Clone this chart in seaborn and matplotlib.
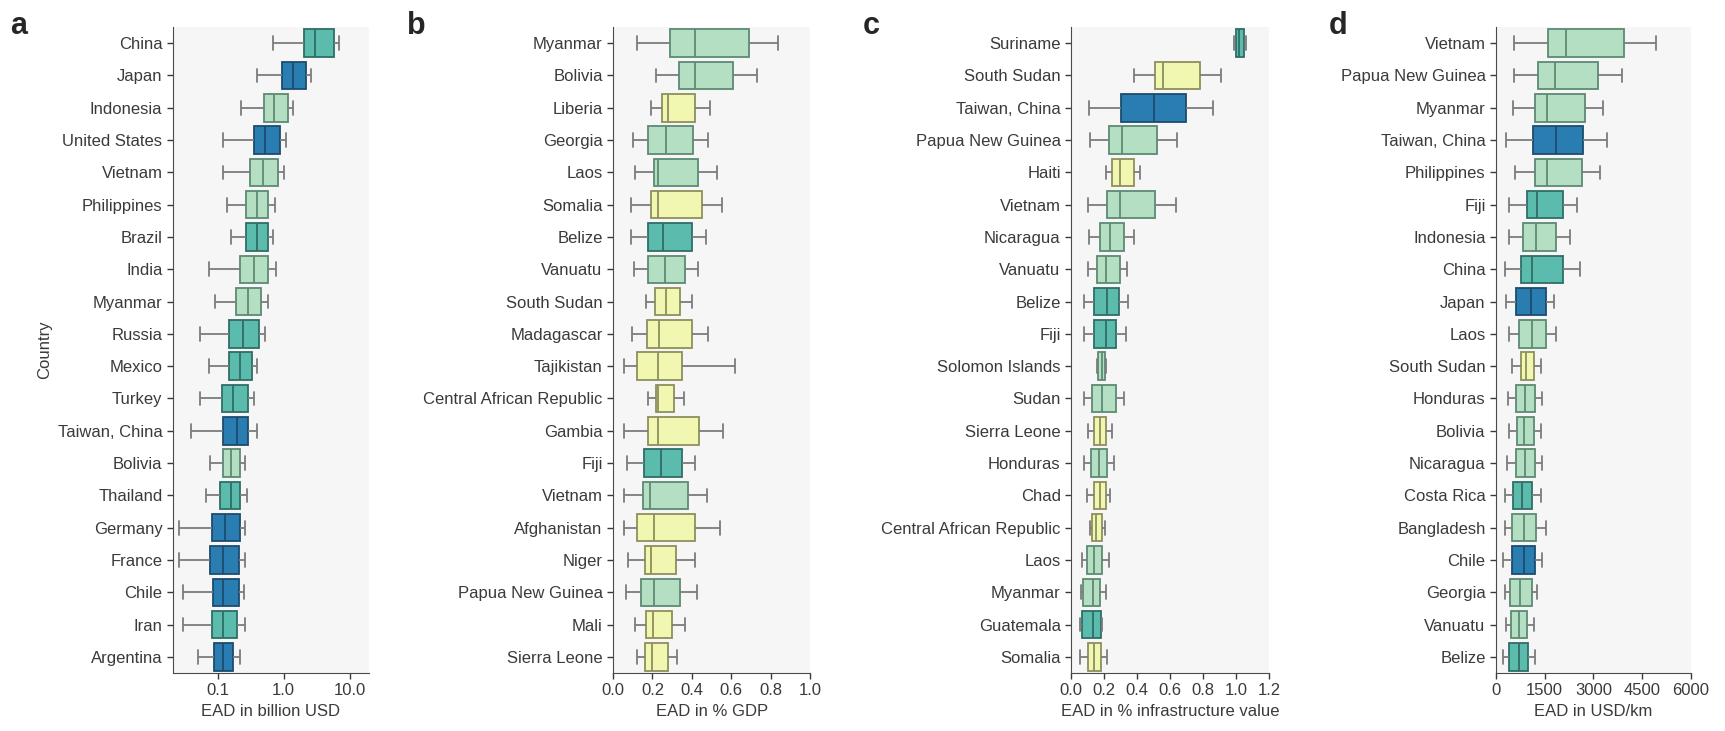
import numpy as np
import pandas as pd
import matplotlib
matplotlib.use("Agg")
import matplotlib.pyplot as plt
from matplotlib.ticker import FixedLocator, FixedFormatter, NullLocator
import seaborn as sns

# income group colours (fill, edge)
group_fill = {"L": "#f1f7b0", "LM": "#b4dfc3", "UM": "#5bbbad", "H": "#2a7db0"}
group_edge = {"L": "#8e8f5c", "LM": "#5d8a74", "UM": "#2f6e66", "H": "#1c4c6e"}

# panel a: EAD in billion USD
a_countries = ["China", "Japan", "Indonesia", "United States", "Vietnam", "Philippines",
               "Brazil", "India", "Myanmar", "Russia", "Mexico", "Turkey", "Taiwan, China",
               "Bolivia", "Thailand", "Germany", "France", "Chile", "Iran", "Argentina"]
a_group = ["UM", "H", "LM", "H", "LM", "LM", "UM", "LM", "LM", "UM", "UM", "UM", "H",
           "LM", "UM", "H", "H", "H", "UM", "H"]
a_lo = [0.68, 0.40, 0.23, 0.12, 0.12, 0.14, 0.16, 0.075, 0.09, 0.055, 0.073, 0.055, 0.039,
        0.078, 0.066, 0.026, 0.026, 0.030, 0.030, 0.050]
a_q1 = [2.0, 0.93, 0.50, 0.35, 0.31, 0.27, 0.27, 0.215, 0.19, 0.15, 0.147, 0.115, 0.12,
        0.12, 0.107, 0.081, 0.076, 0.084, 0.081, 0.087]
a_med = [3.0, 1.4, 0.71, 0.53, 0.48, 0.40, 0.40, 0.35, 0.285, 0.24, 0.22, 0.17, 0.20,
         0.16, 0.16, 0.13, 0.12, 0.12, 0.12, 0.12]
a_q3 = [5.7, 2.15, 1.15, 0.87, 0.81, 0.59, 0.59, 0.59, 0.45, 0.42, 0.33, 0.285, 0.29,
        0.215, 0.22, 0.22, 0.21, 0.21, 0.20, 0.17]
a_hi = [6.8, 2.6, 1.4, 1.07, 1.0, 0.73, 0.68, 0.76, 0.57, 0.53, 0.40, 0.35, 0.39,
        0.26, 0.275, 0.26, 0.26, 0.25, 0.26, 0.215]

# panel b: EAD in % GDP
b_countries = ["Myanmar", "Bolivia", "Liberia", "Georgia", "Laos", "Somalia", "Belize",
               "Vanuatu", "South Sudan", "Madagascar", "Tajikistan", "Central African Republic",
               "Gambia", "Fiji", "Vietnam", "Afghanistan", "Niger", "Papua New Guinea",
               "Mali", "Sierra Leone"]
b_group = ["LM", "LM", "L", "LM", "LM", "L", "UM", "LM", "L", "L", "L", "L", "L", "UM",
           "LM", "L", "L", "LM", "L", "L"]
b_lo = [0.123, 0.22, 0.195, 0.10, 0.11, 0.09, 0.09, 0.107, 0.165, 0.097, 0.056, 0.175,
        0.056, 0.07, 0.056, 0.056, 0.077, 0.067, 0.113, 0.123]
b_q1 = [0.29, 0.335, 0.25, 0.175, 0.21, 0.195, 0.175, 0.175, 0.215, 0.17, 0.123, 0.22,
        0.175, 0.155, 0.15, 0.123, 0.16, 0.143, 0.165, 0.16]
b_med = [0.415, 0.415, 0.28, 0.27, 0.23, 0.23, 0.255, 0.265, 0.27, 0.235, 0.23, 0.23,
         0.23, 0.245, 0.185, 0.21, 0.195, 0.21, 0.205, 0.20]
b_q3 = [0.69, 0.61, 0.415, 0.405, 0.43, 0.45, 0.40, 0.365, 0.34, 0.40, 0.35, 0.31,
        0.435, 0.35, 0.38, 0.415, 0.32, 0.34, 0.30, 0.28]
b_hi = [0.835, 0.73, 0.49, 0.48, 0.53, 0.555, 0.47, 0.43, 0.40, 0.48, 0.62, 0.36,
        0.56, 0.415, 0.475, 0.545, 0.415, 0.425, 0.365, 0.325]

# panel c: EAD in % infrastructure value
c_countries = ["Suriname", "South Sudan", "Taiwan, China", "Papua New Guinea", "Haiti",
               "Vietnam", "Nicaragua", "Vanuatu", "Belize", "Fiji", "Solomon Islands",
               "Sudan", "Sierra Leone", "Honduras", "Chad", "Central African Republic",
               "Laos", "Myanmar", "Guatemala", "Somalia"]
c_group = ["UM", "L", "H", "LM", "L", "LM", "LM", "LM", "UM", "UM", "LM", "LM", "L",
           "LM", "L", "L", "LM", "LM", "UM", "L"]
c_lo = [0.99, 0.38, 0.11, 0.115, 0.21, 0.10, 0.11, 0.10, 0.08, 0.08, 0.16, 0.08, 0.10,
        0.08, 0.095, 0.115, 0.065, 0.06, 0.055, 0.055]
c_q1 = [1.00, 0.51, 0.305, 0.23, 0.25, 0.22, 0.175, 0.16, 0.14, 0.14, 0.165, 0.125,
        0.14, 0.12, 0.14, 0.125, 0.095, 0.07, 0.065, 0.10]
c_med = [1.02, 0.56, 0.50, 0.31, 0.295, 0.295, 0.235, 0.21, 0.215, 0.21, 0.185, 0.19,
         0.175, 0.17, 0.175, 0.15, 0.14, 0.13, 0.13, 0.14]
c_q3 = [1.05, 0.78, 0.695, 0.52, 0.38, 0.51, 0.32, 0.295, 0.29, 0.275, 0.205, 0.27,
        0.21, 0.215, 0.21, 0.19, 0.19, 0.175, 0.18, 0.18]
c_hi = [1.06, 0.91, 0.86, 0.64, 0.42, 0.635, 0.38, 0.34, 0.345, 0.335, 0.21, 0.32,
        0.25, 0.26, 0.235, 0.205, 0.23, 0.21, 0.19, 0.215]

# panel d: EAD in USD/km
d_countries = ["Vietnam", "Papua New Guinea", "Myanmar", "Taiwan, China", "Philippines",
               "Fiji", "Indonesia", "China", "Japan", "Laos", "South Sudan", "Honduras",
               "Bolivia", "Nicaragua", "Costa Rica", "Bangladesh", "Chile", "Georgia",
               "Vanuatu", "Belize"]
d_group = ["LM", "LM", "LM", "H", "LM", "UM", "LM", "UM", "H", "LM", "L", "LM", "LM",
           "LM", "UM", "LM", "H", "LM", "LM", "UM"]
d_lo = [560, 560, 530, 310, 590, 400, 400, 280, 310, 400, 500, 370, 400, 340, 280, 280,
        220, 280, 310, 220]
d_q1 = [1610, 1300, 1210, 1150, 1210, 960, 840, 780, 620, 710, 780, 620, 650, 620, 530,
        500, 500, 430, 460, 400]
d_med = [2170, 1830, 1580, 1860, 1580, 1270, 1240, 1120, 1080, 1120, 930, 900, 870, 900,
         810, 870, 870, 740, 710, 710]
d_q3 = [3940, 3130, 2730, 2670, 2640, 2080, 1860, 2050, 1550, 1550, 1180, 1210, 1180,
        1210, 1120, 1240, 1210, 1120, 960, 990]
d_hi = [4930, 3875, 3290, 3410, 3190, 2510, 2290, 2600, 1800, 1860, 1400, 1430, 1400,
        1430, 1400, 1550, 1430, 1270, 1180, 1210]


def long_table(countries, groups, lo, q1, med, q3, hi):
    rows = []
    for i, c in enumerate(countries):
        for v in (lo[i], q1[i], med[i], q3[i], hi[i]):
            rows.append({"Country": c, "group": groups[i], "EAD": v})
    return pd.DataFrame(rows)


sns.set_style("ticks", {"axes.facecolor": "#f6f6f6", "axes.edgecolor": "#4a4a4a"})
plt.rcParams["font.family"] = ["Liberation Sans", "DejaVu Sans"]
plt.rcParams["font.size"] = 12
plt.rcParams["xtick.color"] = "#3a3a3a"
plt.rcParams["ytick.color"] = "#3a3a3a"

fig = plt.figure(figsize=(17.25, 7.31), dpi=100)

panels = [
    ("a", a_countries, a_group, a_lo, a_q1, a_med, a_q3, a_hi, "EAD in billion USD",
     [0.1002, 0.1136]),
    ("b", b_countries, b_group, b_lo, b_q1, b_med, b_q3, b_hi, "EAD in % GDP",
     [0.3554, 0.1142]),
    ("c", c_countries, c_group, c_lo, c_q1, c_med, c_q3, c_hi,
     "EAD in % infrastructure value", [0.6209, 0.1148]),
    ("d", d_countries, d_group, d_lo, d_q1, d_med, d_q3, d_hi, "EAD in USD/km",
     [0.8672, 0.1130]),
]
label_x = [0.006, 0.236, 0.5, 0.77]
whisker_grey = "#7c7c7c"

for k, (tag, countries, groups, lo, q1, med, q3, hi, xlabel, pos) in enumerate(panels):
    ax = fig.add_axes([pos[0], 0.0793, pos[1], 0.8837])
    df = long_table(countries, groups, lo, q1, med, q3, hi)
    for g in ["L", "LM", "UM", "H"]:
        sub = df[df["group"] == g]
        if sub.empty:
            continue
        sns.boxplot(data=sub, x="EAD", y="Country", order=countries, ax=ax,
                    color=group_fill[g], linecolor=group_edge[g], linewidth=1.3,
                    width=0.85, whis=(0, 100), showfliers=False, saturation=1,
                    log_scale=(tag == "a"),
                    whiskerprops={"color": whisker_grey},
                    capprops={"color": whisker_grey})
    if tag == "a":
        ax.set_xlim(0.021, 19.5)
        ax.xaxis.set_major_locator(FixedLocator([0.1, 1, 10]))
        ax.xaxis.set_major_formatter(FixedFormatter(["0.1", "1.0", "10.0"]))
        ax.xaxis.set_minor_locator(NullLocator())
        ax.set_ylabel("Country", fontsize=12, color="#3a3a3a")
    elif tag == "b":
        ax.set_xlim(0, 1.0)
        ax.set_xticks(np.arange(0, 1.01, 0.2))
        ax.set_xticklabels(["0.0", "0.2", "0.4", "0.6", "0.8", "1.0"])
        ax.set_ylabel("")
    elif tag == "c":
        ax.set_xlim(0, 1.2)
        ax.set_xticks(np.arange(0, 1.21, 0.2))
        ax.set_xticklabels(["0.0", "0.2", "0.4", "0.6", "0.8", "1.0", "1.2"])
        ax.set_ylabel("")
    else:
        ax.set_xlim(0, 6000)
        ax.set_xticks([0, 1500, 3000, 4500, 6000])
        ax.set_ylabel("")
    ax.set_xlabel(xlabel, fontsize=12, color="#3a3a3a")
    ax.tick_params(axis="both", labelsize=12, length=4, width=1)
    sns.despine(ax=ax)
    fig.text(label_x[k], 0.985, tag, fontsize=22, fontweight="bold", va="top", ha="left")

fig.savefig("out.png", dpi=100)
